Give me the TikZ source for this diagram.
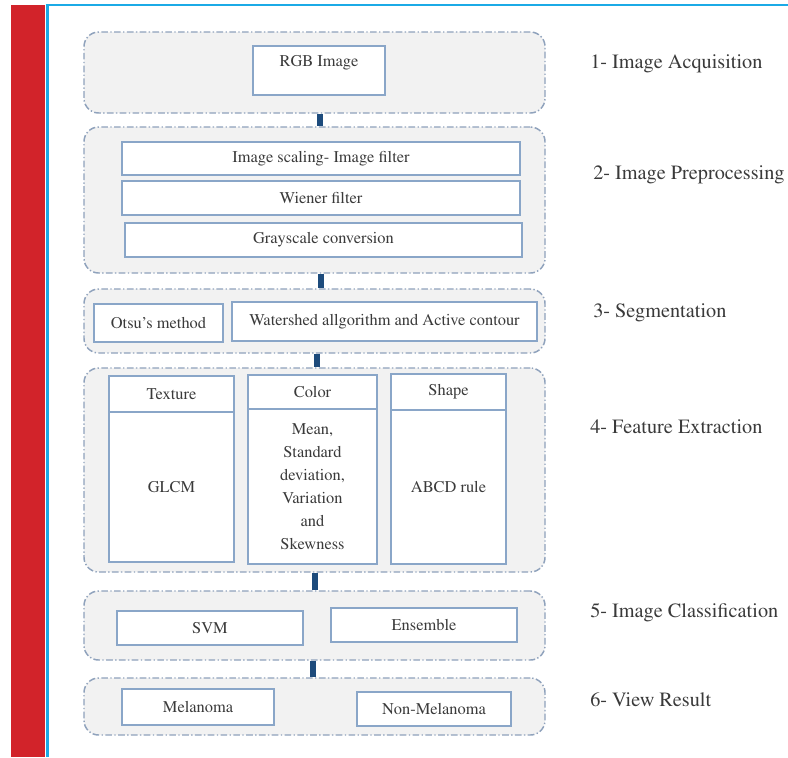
\documentclass[tikz,border=0pt]{standalone}
\usepackage[T1]{fontenc}
\usepackage{mathptmx}
\definecolor{redbar}{HTML}{D2232A}
\definecolor{bluebar}{HTML}{1BAAE6}
\definecolor{grpfill}{HTML}{F2F2F2}
\definecolor{grpline}{HTML}{8FA2BC}
\definecolor{boxline}{HTML}{8AA6C8}
\definecolor{conncol}{HTML}{1D4B7C}
\definecolor{txt}{HTML}{3A3A3A}
\tikzset{
  grp/.style={draw=grpline, fill=grpfill, line width=1.1pt, rounded corners=11pt,
    dash pattern=on 5pt off 1.8pt on 1pt off 1.8pt, minimum width=345.75pt, inner sep=0pt},
  ibox/.style={draw=boxline, fill=white, line width=0.9pt, inner sep=0pt, text=txt,
    font=\fontsize{12.3}{17.25}\selectfont, align=center},
  conn/.style={draw=conncol, line width=4.5pt},
  steplabel/.style={anchor=west, text=txt, font=\fontsize{15.2}{18}\selectfont, inner sep=0pt},
  plain/.style={text=txt, font=\fontsize{12.3}{17.25}\selectfont, inner sep=0pt, align=center}
}
\begin{document}
\begin{tikzpicture}[x=0.75pt, y=-0.75pt]
\useasboundingbox (0,0) rectangle (788,757);
\fill[white] (0,0) rectangle (788,757);
% side decorations
\fill[redbar] (11,5) rectangle (45,757);
\fill[bluebar] (45.5,3.5) rectangle (788,6);
\fill[bluebar] (45.5,3.5) rectangle (48.8,757);

% groups
\node[grp, minimum height=60.75pt] (g1) at (314.5,72.5) {};
\node[grp, minimum height=109.5pt] (g2) at (314.5,200) {};
\node[grp, minimum height=48pt] (g3) at (314.5,321) {};
\node[grp, minimum height=153pt] (g4) at (314.5,470) {};
\node[grp, minimum height=51.75pt] (g5) at (314.5,625.5) {};
\node[grp, minimum height=42.75pt] (g6) at (314.5,706.5) {};

% connector x positions
\coordinate (k1) at (320,0);
\coordinate (k2) at (321,0);
\coordinate (k3) at (317,0);
\coordinate (k4) at (315,0);
\coordinate (k5) at (313,0);
\draw[conn] (g1.south -| k1) -- (g2.north -| k1);
\draw[conn] (g2.south -| k2) -- (g3.north -| k2);
\draw[conn] (g3.south -| k3) -- (g4.north -| k3);
\draw[conn] (g4.south -| k4) -- (g5.north -| k4);
\draw[conn] (g5.south -| k5) -- (g6.north -| k5);

% 1
\node[ibox, minimum width=99pt, minimum height=36.75pt] (rgb) at (319,70.5) {};
\node[plain] (rgbt) at (319,63) {RGB Image};
% 2
\node[ibox, minimum width=298.5pt, minimum height=24.75pt] (pre1) at (321,158.5) {Image scaling- Image filter};
\node[ibox, minimum width=298.5pt, minimum height=25.5pt] (pre2) at (321,198) {Wiener filter};
\node[ibox, minimum width=297.75pt, minimum height=25.5pt] (pre3) at (323.5,240) {Grayscale conversion};
% 3
\node[ibox, minimum width=96.75pt, minimum height=28.5pt] (otsu) at (158.5,323) {Otsu's method};
\node[ibox, minimum width=228.75pt, minimum height=29.25pt] (water) at (384.5,321.5) {Watershed allgorithm and Active contour};
% 4
\node[ibox, minimum width=93.75pt, minimum height=27pt] (texh) at (171.5,394) {Texture};
\node[ibox, minimum width=93.75pt, minimum height=112.5pt] (texb) at (171.5,487) {GLCM};
\node[ibox, minimum width=96.75pt, minimum height=25.5pt] (colh) at (312.5,392) {Color};
\node[ibox, minimum width=96.75pt, minimum height=116.25pt] (colb) at (312.5,486.5) {Mean,\\Standard\\deviation,\\Variation\\and\\Skewness};
\node[ibox, minimum width=86.25pt, minimum height=27pt] (shah) at (448.5,392) {Shape};
\node[ibox, minimum width=86.25pt, minimum height=115.5pt] (shab) at (448.5,487) {ABCD rule};
% 5
\node[ibox, minimum width=139.5pt, minimum height=25.5pt] (svm) at (210,628) {SVM};
\node[ibox, minimum width=139.5pt, minimum height=25.5pt] (ens) at (424,625) {Ensemble};
% 6
\node[ibox, minimum width=114pt, minimum height=27pt] (mel) at (198,707) {Melanoma};
\node[ibox, minimum width=115.5pt, minimum height=25.5pt] (nmel) at (434,709) {Non-Melanoma};

% step labels
\node[steplabel] (l1) at (590,64) {1- Image Acquisition};
\node[steplabel] (l2) at (593,175) {2- Image Preprocessing};
\node[steplabel] (l3) at (593,313) {3- Segmentation};
\node[steplabel] (l4) at (590,427) {4- Feature Extraction};
\node[steplabel] (l5) at (590,613) {5- Image Classification};
\node[steplabel] (l6) at (590,700) {6- View Result};
\end{tikzpicture}
\end{document}
